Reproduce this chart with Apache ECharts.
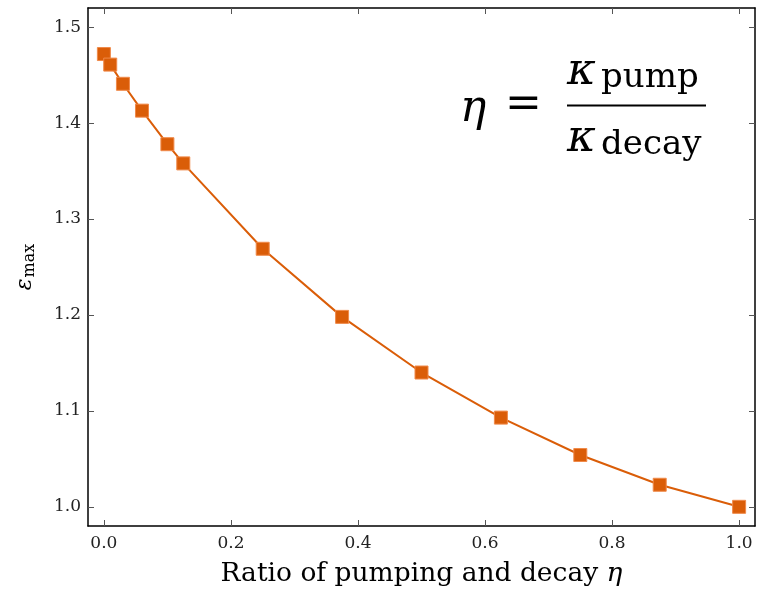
<!DOCTYPE html>
<html>
<head>
<meta charset="utf-8">
<script src="https://cdn.jsdelivr.net/npm/echarts@6/dist/echarts.min.js"></script>
<style>
  html, body { margin: 0; padding: 0; background: #fff; }
  #chart { width: 769px; height: 589px; }
</style>
</head>
<body>
<div id="chart"></div>
<script>
// ratio of pumping and decay (eta) vs eps_max
const etaValues = [0, 0.01, 0.03, 0.06, 0.1, 0.125, 0.25, 0.375, 0.5, 0.625, 0.75, 0.875, 1.0]
const epsMax = [1.472, 1.461, 1.441, 1.413, 1.378, 1.358, 1.269, 1.198, 1.140, 1.093, 1.054, 1.023, 1.000]
const xTicks = [0, 0.2, 0.4, 0.6, 0.8, 1.0]
const yTicks = [1.0, 1.1, 1.2, 1.3, 1.4, 1.5]

const serif = '"DejaVu Serif", "Liberation Serif", serif'
const lineColor = '#da5d08'
const frame = { show: true, onZero: false, lineStyle: { color: '#000', width: 1.5 } }
const tick = (vals) => ({ show: true, inside: true, length: 6, lineStyle: { color: '#555', width: 1 }, customValues: vals })

const chart = echarts.init(document.getElementById('chart'))

const option = {
  animation: false,
  grid: { left: 88, right: 14, top: 8, bottom: 63, outerBoundsMode: 'none', containLabel: false },
  xAxis: [{
    type: 'value',
    min: -0.025,
    max: 1.025,
    name: 'Ratio of pumping and decay {i|η}',
    nameLocation: 'middle',
    nameGap: 35,
    nameTextStyle: {
      fontFamily: serif, fontSize: 26.5, color: '#000',
      rich: { i: { fontFamily: serif, fontStyle: 'italic', fontSize: 26.5, color: '#000' } }
    },
    axisLine: frame,
    splitLine: { show: false },
    axisTick: tick(xTicks),
    axisLabel: {
      customValues: xTicks,
      margin: 9,
      fontFamily: serif, fontSize: 17, color: '#222',
      formatter: v => v.toFixed(1)
    }
  }, {
    type: 'value',
    position: 'top',
    min: -0.025,
    max: 1.025,
    axisLine: frame,
    splitLine: { show: false },
    axisTick: tick(xTicks),
    axisLabel: { show: false, customValues: xTicks }
  }],
  yAxis: [{
    type: 'value',
    min: 0.98,
    max: 1.52,
    name: '{e|ε}{s|max}',
    nameLocation: 'middle',
    nameGap: 50,
    nameRotate: 90,
    nameTextStyle: {
      rich: {
        e: { fontFamily: serif, fontStyle: 'italic', fontSize: 22, color: '#000' },
        s: { fontFamily: serif, fontSize: 16, color: '#000', verticalAlign: 'bottom', padding: [9, 0, 0, 1] }
      }
    },
    axisLine: frame,
    splitLine: { show: false },
    axisTick: tick(yTicks),
    axisLabel: {
      customValues: yTicks,
      margin: 7,
      fontFamily: serif, fontSize: 17, color: '#222',
      formatter: v => v.toFixed(1)
    }
  }, {
    type: 'value',
    position: 'right',
    min: 0.98,
    max: 1.52,
    axisLine: frame,
    splitLine: { show: false },
    axisTick: tick(yTicks),
    axisLabel: { show: false, customValues: yTicks }
  }],
  series: [{
    type: 'line',
    data: etaValues.map((x, i) => [x, epsMax[i]]),
    symbol: 'rect',
    symbolSize: 13,
    lineStyle: { color: lineColor, width: 2 },
    itemStyle: { color: lineColor, borderColor: '#f08a4a', borderWidth: 1 }
  }],
  graphic: [
    { type: 'text', left: 460, top: 88, style: { text: 'η', font: 'italic 44px ' + serif, fill: '#000' } },
    { type: 'text', left: 505, top: 84, style: { text: '=', font: '44px ' + serif, fill: '#000' } },
    { type: 'rect', shape: { x: 567, y: 104.5, width: 139, height: 2 }, style: { fill: '#000' } },
    { type: 'text', left: 567, top: 51, style: { text: 'κ', font: 'italic 44px ' + serif, fill: '#000' } },
    { type: 'text', left: 601, top: 61, style: { text: 'pump', font: '34px ' + serif, fill: '#000' } },
    { type: 'text', left: 567, top: 118, style: { text: 'κ', font: 'italic 44px ' + serif, fill: '#000' } },
    { type: 'text', left: 601, top: 128, style: { text: 'decay', font: '34px ' + serif, fill: '#000' } }
  ]
}

chart.setOption(option)
</script>
</body>
</html>
